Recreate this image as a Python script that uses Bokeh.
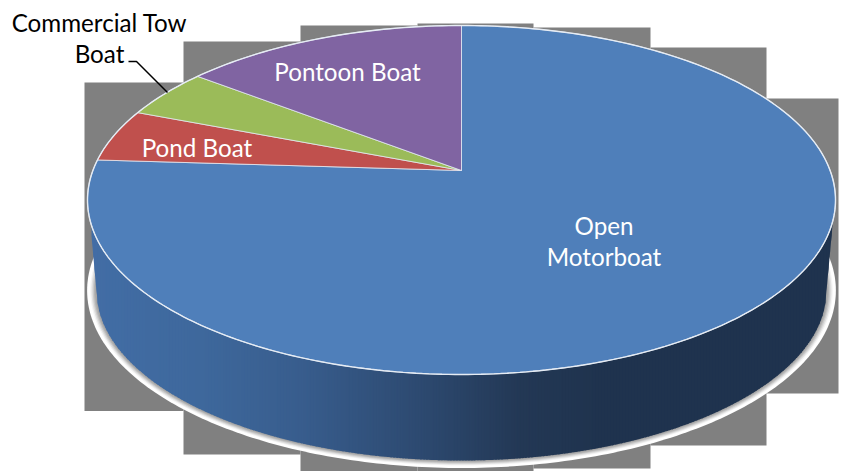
import numpy as np
from bokeh.plotting import figure
from bokeh.models import Range1d
from bokeh.core.properties import value
from bokeh.embed import file_html
from bokeh.resources import INLINE

# --- chart data ---
categories = ["Open Motorboat", "Pond Boat", "Commercial Tow Boat", "Pontoon Boat"]
shares = [76.0, 4.9, 4.6, 14.5]
slice_colors = ["#4f7fba", "#c0504d", "#9bbb59", "#8064a2"]
label_lines = [["Open", "Motorboat"], ["Pond Boat"], ["Commercial Tow", "Boat"], ["Pontoon Boat"]]
label_x = [603.5, 196.5, 99, 347]
label_y = [[224.5, 256], [147], [22, 53], [71]]
label_color = ["white", "white", "black", "white"]

# stepped grey backdrop behind the pie
back_edges = [84, 183, 300, 417, 533, 650, 766, 838]
back_top = [82, 41, 25, 23, 27, 47, 98]
back_bot = [410.5, 454, 471, 471, 468, 445, 393]

# leader line
leader_x = [128, 136, 167]
leader_y = [61, 61, 92]

# wall gradient stops
wall_x = [91, 200, 300, 417, 520, 600, 832]
wall_rgb = [(66, 109, 165), (62, 104, 156), (56, 93, 141), (45, 74, 113), (35, 56, 85), (31, 51, 78), (31, 51, 78)]

# geometry of the perspective pie
CX, CY, RX, RY = 461.0, 199.5, 374.0, 174.5
APEX_Y = 170.0
LCY, LRX, LRY = 290.0, 365.0, 170.0

W, H = 841, 471
p = figure(width=W, height=H, x_range=Range1d(0, W), y_range=Range1d(H, 0),
           output_backend="svg", toolbar_location=None, min_border=0,
           outline_line_color=None, background_fill_color="white", border_fill_color="white")
p.axis.visible = False
p.grid.visible = False

# backdrop
p.quad(left=back_edges[:-1], right=back_edges[1:], top=back_top, bottom=back_bot,
       fill_color="#808080", line_color=None)

# halo under the wall: white outer rim then soft grey toward the wall
t = np.linspace(0, 2 * np.pi, 361)
halo = [(7.5, "#ffffff"), (5.0, "#f4f4f4"), (4.0, "#e0e0e0"), (3.0, "#cacaca"), (2.0, "#b4b4b4"), (1.0, "#a4a4a4")]
for d, c in halo:
    p.patch(CX + (LRX + d * 1.25) * np.cos(t), LCY + (LRY + d) * np.sin(t), fill_color=c, line_color=None)

# wall as thin vertical strips
def top_edge(x):
    return CY + RY * np.sqrt(np.clip(1 - ((x - CX) / RX) ** 2, 0, 1))

def bot_edge(x):
    dx = np.abs(x - CX)
    y = LCY + LRY * np.sqrt(np.clip(1 - (dx / LRX) ** 2, 0, 1))
    return np.where(dx > LRX, LCY - (dx - LRX) / (371 - LRX) * 65, y)

xs_edge = np.arange(91, 832.5, 1.5)
sx, sy, sc = [], [], []
for a, b in zip(xs_edge[:-1], xs_edge[1:]):
    xx = np.array([a, b + 0.6])
    mid = (a + b) / 2
    col = [int(round(np.interp(mid, wall_x, [c[i] for c in wall_rgb]))) for i in range(3)]
    sx.append([xx[0], xx[1], xx[1], xx[0]])
    sy.append([top_edge(xx[0]) - 3, top_edge(xx[1]) - 3, float(bot_edge(xx[1])), float(bot_edge(xx[0]))])
    sc.append("#%02x%02x%02x" % tuple(col))
p.patches(sx, sy, fill_color=sc, line_color=None)

# top face: slices mapped through the perspective boost
b = (APEX_Y - CY) / RY

def project(theta):
    u, v = np.sin(theta), -np.cos(theta)
    d = 1 + b * v
    return CX + RX * u * np.sqrt(1 - b * b) / d, CY + RY * (v + b) / d

total = sum(shares)
start = 0.0
for share, color in zip(shares, slice_colors):
    end = start + share / total * 2 * np.pi
    th = np.linspace(start, end, max(int(share * 6), 12))
    px, py = project(th)
    p.patch(np.r_[CX, px], np.r_[APEX_Y, py], fill_color=color, line_color="#e4ebf4", line_width=0.8)
    start = end

# bright rim
p.patch(CX + RX * np.cos(t), CY + RY * np.sin(t), fill_color=None, line_color="#e6ecf4", line_width=1.4)

# leader
p.line(leader_x, leader_y, line_color="black", line_width=1.5)

# labels
for lines, lx, lys, col in zip(label_lines, label_x, label_y, label_color):
    for s, ly in zip(lines, lys):
        p.text([lx], [ly], text=[s], text_color=col, text_font=value("Lato"), text_font_size="24.2px",
               text_align="center", text_baseline="middle")

open("out.html", "w").write(file_html(p, INLINE))
